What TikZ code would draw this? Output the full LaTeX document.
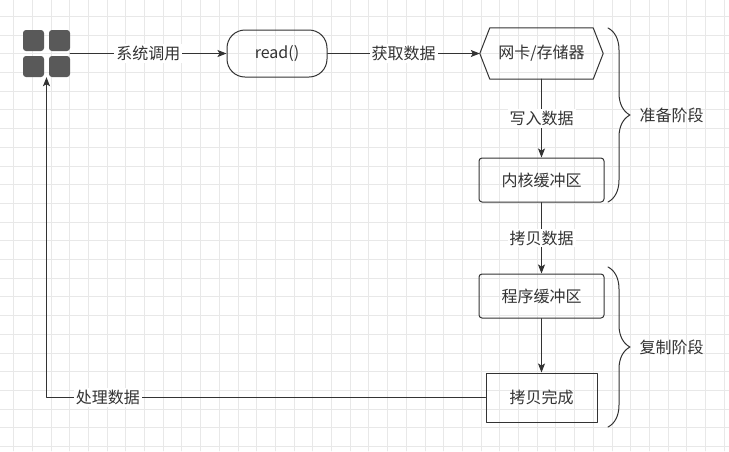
\documentclass[tikz,border=0pt]{standalone}
\usepackage{fontspec}
\setmainfont{Noto Sans CJK SC}
\usetikzlibrary{arrows.meta,decorations.pathreplacing}
\definecolor{ink}{HTML}{333333}
\definecolor{tile}{HTML}{595959}
\begin{document}
\begin{tikzpicture}[x=1pt,y=-1pt,line join=round,line cap=round,
  >={Stealth[length=9pt,width=7pt,inset=2pt]},
  every node/.style={font=\fontsize{16}{19}\selectfont,text=ink},
  ln/.style={draw=ink,line width=1pt},
  box/.style={ln,minimum width=125pt,minimum height=44pt,rounded corners=3pt},
  lbl/.style={fill=white,inner sep=2pt},
  brc/.style={ln,decorate,decoration={brace,amplitude=22pt}}]
\useasboundingbox (0,0) rectangle (729,451);
\fill[white] (0,0) rectangle (729,451);
\foreach \i in {0,...,38} \draw[gray!18,line width=.8pt] (13.5+18.7*\i,0)--(13.5+18.7*\i,451);
\foreach \i in {0,...,23} \draw[gray!18,line width=.8pt] (0,16.3+18.7*\i)--(729,16.3+18.7*\i);
\node (os) [minimum size=47pt,inner sep=0pt] at (46.5,53.5) {};
\foreach \dx/\dy in {-13/-13,13/-13,-13/13,13/13}
  \fill[tile,rounded corners=3pt] ([shift={(\dx-10.5,\dy-10.5)}]os.center) rectangle +(21,21);
\node[ln,rounded corners=18pt,minimum width=100pt,minimum height=47pt] (read) at (277,53.5) {read()};
\node[minimum width=123pt,minimum height=51pt] (nic) at (541.5,53.5) {网卡/存储器};
\draw[ln] (nic.west)--([xshift=10pt]nic.north west)--([xshift=-10pt]nic.north east)
  --(nic.east)--([xshift=-10pt]nic.south east)--([xshift=10pt]nic.south west)--cycle;
\node[box] (kbuf) at (541.5,180) {内核缓冲区};
\node[box] (ubuf) at (541.5,296) {程序缓冲区};
\node[box,rounded corners=0pt,minimum width=111pt,minimum height=49pt] (done) at (541.5,397.5) {拷贝完成};
\draw[ln,->] (os) -- node[lbl]{系统调用} (read);
\draw[ln,->] (read) -- node[lbl]{获取数据} (nic.west);
\draw[ln,->] (nic) -- node[lbl]{写入数据} (kbuf);
\draw[ln,->] (kbuf) -- node[lbl]{拷贝数据} (ubuf);
\draw[ln,->] (ubuf) -- (done);
\draw[ln,->] (done.west) -| node[lbl,pos=.43]{处理数据} (os.south);
\coordinate (p1) at (608,28);
\coordinate (p2) at (608,202);
\coordinate (q1) at (608,267);
\coordinate (q2) at (608,427);
\draw[brc] (p1) -- (p2);
\draw[brc] (q1) -- (q2);
\node[right] (prep) at (636,115) {准备阶段};
\node[right] (copy) at (636,347) {复制阶段};
\end{tikzpicture}
\end{document}
